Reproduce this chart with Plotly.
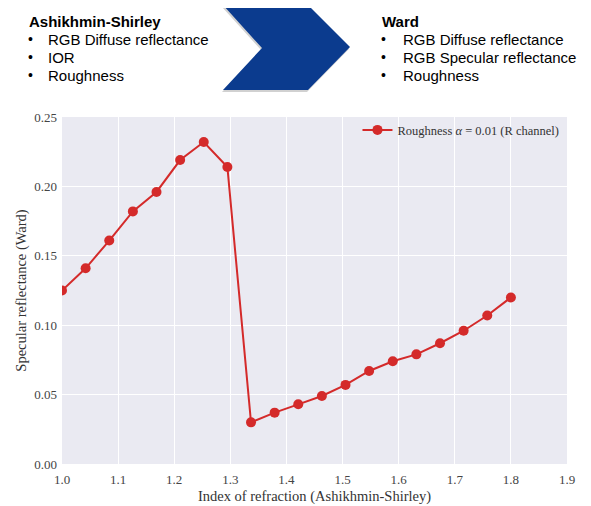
import plotly.graph_objects as go

# Data
ior = [1.0 + i * 0.8 / 19 for i in range(20)]
specular = [0.125, 0.141, 0.161, 0.182, 0.196, 0.219, 0.232, 0.214, 0.030, 0.037,
            0.043, 0.049, 0.057, 0.067, 0.074, 0.079, 0.087, 0.096, 0.107, 0.120]
series_name = "Roughness <i>α</i> = 0.01 (R channel)"
x_ticks = [1.0, 1.1, 1.2, 1.3, 1.4, 1.5, 1.6, 1.7, 1.8, 1.9]
y_ticks = [0.00, 0.05, 0.10, 0.15, 0.20, 0.25]
left_title = "Ashikhmin-Shirley"
left_items = ["RGB Diffuse reflectance", "IOR", "Roughness"]
right_title = "Ward"
right_items = ["RGB Diffuse reflectance", "RGB Specular reflectance", "Roughness"]

OFF = 8  # page body margin
W, H = 591 - OFF, 506 - OFF
L, R, T, B = 62, 567, 117, 464  # target pixel positions in the window

def px(x):
    return (x - L) / (R - L)

def py(y):
    return (B - y) / (B - T)

serif = "Liberation Serif, DejaVu Serif, serif"
sans = "Liberation Sans, Arial, sans-serif"

fig = go.Figure()
fig.add_trace(go.Scatter(
    x=ior, y=specular, mode="lines+markers", name=series_name,
    line=dict(color="#d42a2a", width=2),
    marker=dict(color="#d42a2a", size=10),
))

annotations = []
def add_block(x_title, x_bullet, x_text, title, items):
    annotations.append(dict(x=px(x_title), y=py(21), xref="paper", yref="paper",
                            text="<b>" + title + "</b>", showarrow=False,
                            xanchor="left", yanchor="middle", xshift=-3,
                            font=dict(family=sans, size=15, color="black")))
    for i, it in enumerate(items):
        yy = 39 + i * 18
        annotations.append(dict(x=px(x_bullet), y=py(yy), xref="paper", yref="paper",
                                text="•", showarrow=False, xanchor="left", yanchor="middle",
                                xshift=-3,
                                font=dict(family=sans, size=14, color="black")))
        annotations.append(dict(x=px(x_text), y=py(yy), xref="paper", yref="paper",
                                text=it, showarrow=False, xanchor="left", yanchor="middle",
                                xshift=-4,
                                font=dict(family=sans, size=15, color="black")))

add_block(30, 29, 50, left_title, left_items)
add_block(383, 382, 405, right_title, right_items)

arrow_pts = [(223, 5), (308, 5), (350, 47), (308, 90), (223, 90), (262, 48)]
def path(pts, dx=0, dy=0):
    s = ""
    for i, (a, b) in enumerate(pts):
        s += ("M" if i == 0 else "L") + f"{px(a+dx):.5f},{py(b+dy):.5f} "
    return s + "Z"

shapes = [
    dict(type="path", xref="paper", yref="paper", path=path(arrow_pts, -1, 2),
         fillcolor="rgba(0,0,0,0.18)", line=dict(width=0), layer="above"),
    dict(type="path", xref="paper", yref="paper", path=path(arrow_pts),
         fillcolor="#0b3b8e", line=dict(width=0), layer="above"),
]

fig.update_layout(
    width=W, height=H,
    margin=dict(l=L - OFF, r=W - (R - OFF), t=T - OFF, b=H - (B - OFF), pad=0,
                autoexpand=False),
    paper_bgcolor="white", plot_bgcolor="#eaeaf2",
    font=dict(family=serif, size=13, color="#333333"),
    showlegend=True,
    legend=dict(x=0.995, y=1.005, xanchor="right", yanchor="top",
                bgcolor="rgba(0,0,0,0)", font=dict(family=serif, size=12.5, color="#333333")),
    annotations=annotations, shapes=shapes,
    xaxis=dict(range=[1.0, 1.9], tickvals=x_ticks, tickformat=".1f", automargin=False,
               showgrid=True, gridcolor="white", gridwidth=1.2, zeroline=False,
               showline=False, ticks="", ticklen=0, ticklabelstandoff=6,
               title=dict(text="Index of refraction (Ashikhmin-Shirley)", standoff=4,
                          font=dict(family=serif, size=14.5, color="#333333")),
               tickfont=dict(family=serif, size=13, color="#444444")),
    yaxis=dict(range=[0.0, 0.25], tickvals=y_ticks, tickformat=".2f", automargin=False,
               showgrid=True, gridcolor="white", gridwidth=1.2, zeroline=False,
               showline=False, ticks="", ticklabelstandoff=4,
               title=dict(text="Specular reflectance (Ward)", standoff=4,
                          font=dict(family=serif, size=14.5, color="#333333")),
               tickfont=dict(family=serif, size=13, color="#444444")),
)

fig.write_html("out.html")
